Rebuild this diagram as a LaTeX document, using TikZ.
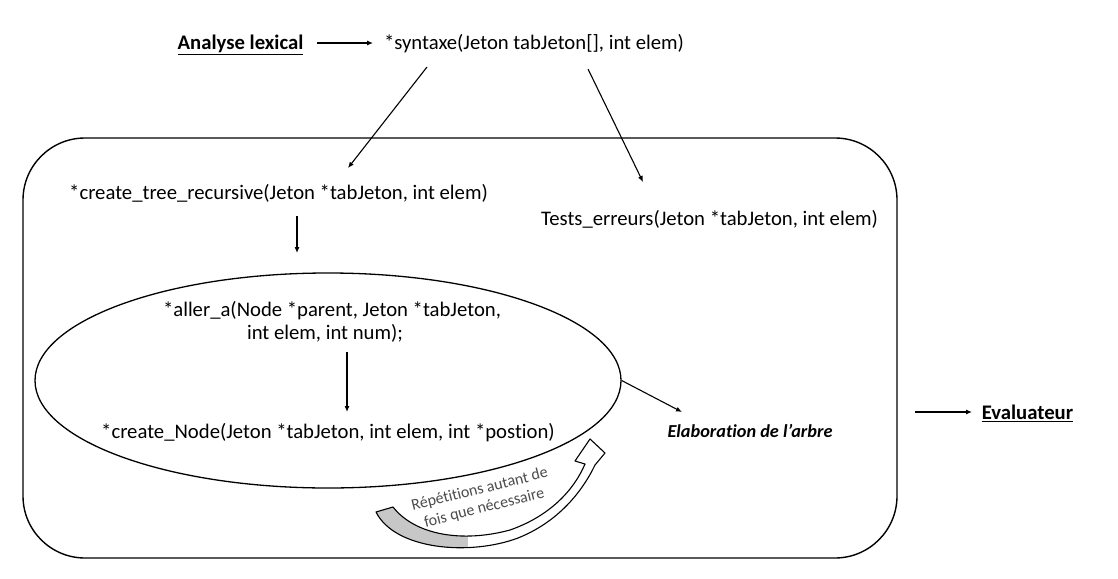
\documentclass[tikz,border=0pt]{standalone}
\usepackage{fontspec}
\setmainfont{Carlito}[Ligatures=NoCommon, RawFeature={-liga;-clig;-calt}]
\usetikzlibrary{shapes.geometric,arrows.meta}
\begin{document}
\begin{tikzpicture}[x=1pt,y=-1pt,
  txt/.style={inner sep=0pt, anchor=base, font=\fontsize{20.7}{24}\selectfont},
  conn/.style={line width=1.1pt, -{Latex[length=6pt,width=5pt]}},
]
\useasboundingbox (0,0) rectangle (1118,578);
% frame
\draw[line width=1.4pt, rounded corners=62pt] (23,138) rectangle (897,558);
% ellipse
\node[draw, line width=1.3pt, ellipse, minimum width=586pt, minimum height=215pt, inner sep=0pt] (ell) at (328,380.5) {};
% texts
\node[txt, font=\fontsize{20.7}{24}\selectfont\bfseries] (lex) at (240.5,49.5) {\underline{Analyse lexical}};
\node[txt] (syn) at (534,49.5) {*syntaxe(Jeton tabJeton[], int elem)};
\node[txt] (tree) at (278.5,199.5) {*create\_tree\_recursive(Jeton *tabJeton, int elem)};
\node[txt] (test) at (709.5,225.5) {Tests\_erreurs(Jeton *tabJeton, int elem)};
\node[txt] (aller1) at (332,316.5) {*aller\_a(Node *parent, Jeton *tabJeton,};
\node[txt] (aller2) at (325,339.5) {int elem, int num);};
\node[txt] (cnode) at (328,438.5) {*create\_Node(Jeton *tabJeton, int elem, int *postion)};
\node[txt, font=\fontsize{18.3}{22}\selectfont\bfseries\itshape] (elab) at (750,437) {Elaboration de l’arbre};
\node[txt, font=\fontsize{20.7}{24}\selectfont\bfseries] (eval) at (1027.5,419.5) {\underline{Evaluateur}};
% connector end points
\coordinate (s1) at (427,67);
\coordinate (t1) at (348,168);
\coordinate (s2) at (588,69);
\coordinate (t2) at (643,182);
\coordinate (s3) at (297,216);
\coordinate (t3) at (297,253);
\coordinate (s4) at (347,352);
\coordinate (t4) at (347,412);
\coordinate (t5) at (682,412);
\coordinate (s6) at (915,412);
\coordinate (t6) at (972,412);
\coordinate (s0) at (317,43);
\coordinate (t0) at (373,43);
% connectors
\draw[conn] (s0) -- (t0);
\draw[conn] (s1) -- (t1);
\draw[conn] (s2) -- (t2);
\draw[conn] (s3) -- (t3);
\draw[conn] (s4) -- (t4);
\draw[conn] (ell.east) -- (t5);
\draw[conn] (s6) -- (t6);
% curved block arrow
\begin{scope}
\path[clip] (376,512) .. controls (395,550) and (470,556) .. (518,538)
  .. controls (558,522) and (582,492) .. (595,465) -- (605,453) -- (590,439)
  -- (575,461) -- (585,464) .. controls (574,490) and (550,516) .. (510,530)
  .. controls (462,543) and (415,535) .. (393,507) -- cycle;
\fill[black!22] (360,490) rectangle (468,560);
\end{scope}
\draw[line width=1.1pt, line join=round] (376,512) .. controls (395,550) and (470,556) .. (518,538)
  .. controls (558,522) and (582,492) .. (595,465) -- (605,453) -- (590,439)
  -- (575,461) -- (585,464) .. controls (574,490) and (550,516) .. (510,530)
  .. controls (462,543) and (415,535) .. (393,507) -- cycle;
\node[inner sep=0pt, rotate=14, align=center, text=black!70,
  font=\fontsize{16}{19}\selectfont] (rep) at (482,499) {Répétitions autant de\\fois que nécessaire};
\end{tikzpicture}
\end{document}
